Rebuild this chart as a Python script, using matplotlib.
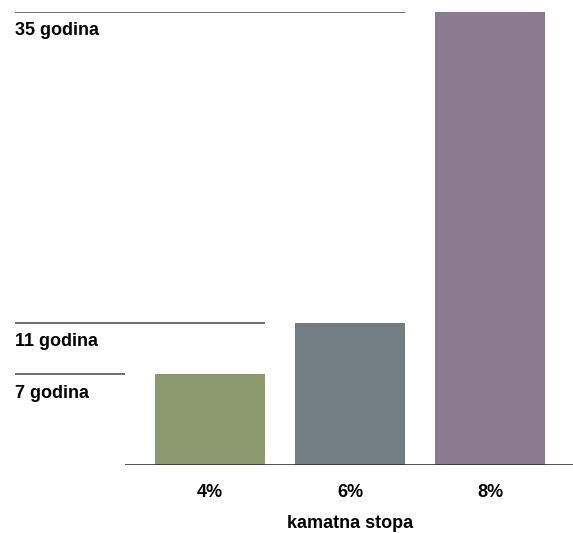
import numpy as np
import matplotlib.pyplot as plt

# kamatna stopa i broj godina za udvostručenje
stope = ['4%', '6%', '8%']
godine = [7, 11, 35]
boje = ['#8a9a6e', '#717f84', '#8a7b90']

plt.rcParams['font.family'] = ['Liberation Sans', 'DejaVu Sans']

fig = plt.figure(figsize=(5.73, 5.33), dpi=100)
ax = fig.add_axes([15 / 573, 68 / 533, 558 / 573, 453 / 533])

x = np.arange(len(stope))
sirina = 110 / 140
ax.bar(x, godine, width=sirina, color=boje)

ax.set_xlim(-195 / 140, 2 + 83 / 140)
ax.set_ylim(0, 35)
x_lijevo = ax.get_xlim()[0]

# osnovna linija
ax.hlines(0, -1 + sirina / 2, ax.get_xlim()[1], color='#333333', lw=1.2)

# vodoravne linije do prethodnog stupca i natpisi
for i, g in enumerate(godine):
    ax.hlines(g, x_lijevo, i - 1 + sirina / 2, color='#555555', lw=1.2)
    ax.annotate(f'{g} godina', (x_lijevo, g), xytext=(0, -7.5),
                textcoords='offset points', ha='left', va='top',
                fontsize=13, fontweight='bold')

for i, s in enumerate(stope):
    ax.annotate(s, (i, 0), xytext=(0, -19.5), textcoords='offset points',
                ha='center', va='center', fontsize=13, fontweight='bold')

ax.annotate('kamatna stopa', (1, 0), xytext=(0, -42), textcoords='offset points',
            ha='center', va='center', fontsize=13, fontweight='bold')

ax.axis('off')
fig.savefig('out.png', dpi=100)
